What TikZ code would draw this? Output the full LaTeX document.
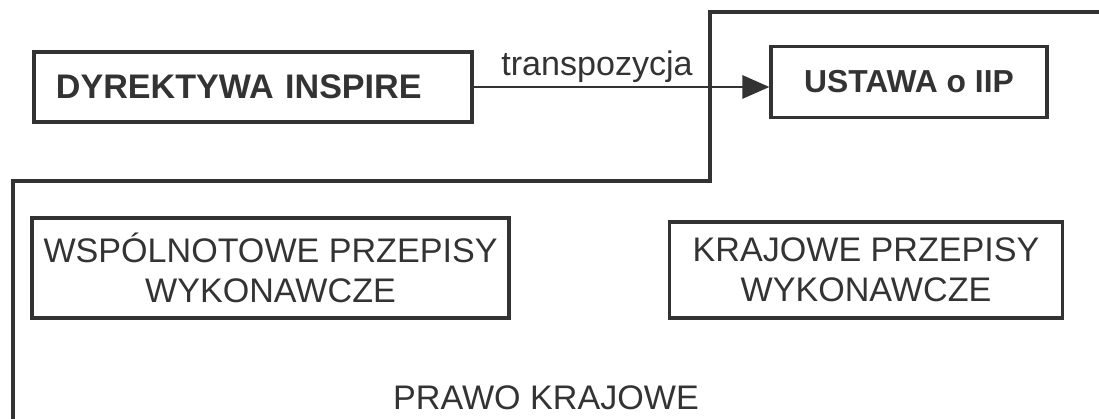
\documentclass[tikz,border=0pt]{standalone}
\usepackage{fontspec}
\setmainfont{Liberation Sans}
\usetikzlibrary{arrows.meta}
\definecolor{ink}{HTML}{333333}
\begin{document}
\begin{tikzpicture}[
  every node/.style={text=ink, font=\fontsize{9.7}{11.4}\selectfont},
  box/.style={draw=ink, line width=0.9pt, inner sep=0pt, align=center},
  frame/.style={draw=ink, line width=0.9pt}
]
\useasboundingbox (0,0) rectangle (10.99,4.19);

% outer border of national law
\draw[frame] (11.2,4.07) -- (7.10,4.07) -- (7.10,2.38) -- (0.13,2.38) -- (0.13,-0.2);

\node[box, minimum width=4.38cm, minimum height=0.70cm, text width=3.94cm, align=left] (dyrektywa) at (2.53,3.32) {\textbf{DYREKTYWA INSPIRE}};
\node[box, minimum width=2.76cm, minimum height=0.71cm, font=\fontsize{9.05}{11}\selectfont] (ustawa) at (9.09,3.37) {\textbf{USTAWA o IIP}};

\draw[ink, line width=0.8pt, -{Triangle[length=2.7mm,width=2.3mm]}] (dyrektywa.east) -- (dyrektywa.east -| ustawa.west);
\node[anchor=base] (transp) at (5.97,3.43) {transpozycja};

\node[box, minimum width=4.77cm, minimum height=1.0cm] (wspolnotowe) at (2.705,1.51) {WSPÓLNOTOWE PRZEPISY\\WYKONAWCZE};
\node[box, minimum width=3.93cm, minimum height=0.96cm] (krajowe) at (8.66,1.49) {KRAJOWE PRZEPISY\\WYKONAWCZE};

\node (prawo) at (5.46,0.21) {PRAWO KRAJOWE};

\end{tikzpicture}
\end{document}
